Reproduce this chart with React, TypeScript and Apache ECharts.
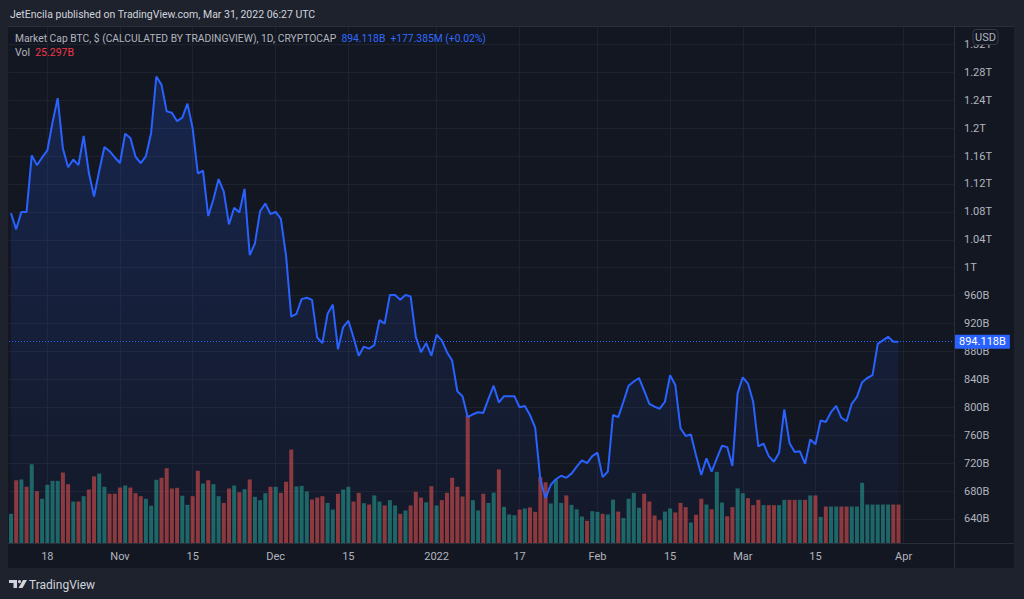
import React, { useEffect, useRef } from "react";
import * as echarts from "echarts";

// ---------- DATA ----------
const startDate = "2021-10-11";

// Market cap (billions USD), daily closes Oct 11 2021 – Mar 31 2022
const marketCapB = [
  1078, 1055, 1080, 1080, 1161, 1147, 1158, 1168, 1208, 1243,
  1171, 1144, 1155, 1147, 1189, 1136, 1102, 1139, 1173, 1167,
  1158, 1150, 1192, 1186, 1159, 1150, 1160, 1193, 1274, 1262,
  1224, 1222, 1210, 1215, 1235, 1200, 1135, 1139, 1074, 1098,
  1127, 1109, 1062, 1086, 1079, 1113, 1018, 1035, 1081, 1092,
  1077, 1080, 1070, 1017, 930, 934, 955, 957, 954, 900,
  892, 934, 947, 883, 915, 924, 900, 874, 887, 884,
  889, 925, 920, 961, 961, 954, 961, 959, 901, 879,
  892, 874, 904, 896, 879, 867, 823, 816, 786, 790,
  793, 792, 812, 831, 807, 816, 816, 816, 800, 802,
  789, 771, 696, 670, 689, 697, 702, 699, 705, 715,
  724, 720, 730, 735, 700, 708, 789, 786, 808, 831,
  837, 842, 824, 805, 801, 798, 808, 846, 832, 770,
  759, 761, 731, 703, 727, 708, 727, 745, 743, 716,
  820, 843, 834, 808, 744, 748, 730, 722, 735, 797,
  749, 736, 737, 719, 754, 747, 781, 779, 793, 802,
  785, 780, 805, 815, 836, 842, 846, 891, 896, 901,
  894, 894.118,
];

// Volume (billions USD)
const volumeB = [
  19.2, 41.3, 41.8, 37, 51.8, 34.1, 29.1, 38.3, 40.9, 40.9,
  46.4, 38.7, 27.3, 27.3, 30.8, 35.2, 43.8, 45.7, 37, 32.4,
  32.4, 36.5, 37.8, 36.5, 32.8, 30.8, 29.1, 24.5, 41.6, 42.9,
  49.2, 35.9, 36.3, 31.1, 25.1, 30.8, 47.5, 39.1, 41.3, 38.7,
  30.8, 26.4, 35.9, 37.8, 33.4, 35.4, 41.8, 30.4, 28.2, 32.8,
  37, 37, 33, 40.3, 61.5, 37.2, 37.6, 33.9, 28.6, 29.9,
  30.8, 26.4, 22, 32.4, 35.2, 37, 27.3, 33, 26.2, 25.3,
  31.3, 27.3, 24.7, 28.2, 24.7, 19.2, 21.4, 24.7, 33.7, 29.9,
  26.8, 37.4, 24.7, 28.2, 33, 42.9, 37, 30.6, 83.9, 28.2,
  21.4, 32.4, 26.4, 33.2, 48.4, 23.8, 18.8, 18.3, 22, 22.7,
  23.4, 20.5, 43.3, 40, 26, 41.8, 26.4, 31.3, 25.1, 22.2,
  17.4, 14.6, 20.9, 20.5, 19.2, 18.8, 28.6, 20.7, 16.4, 29.1,
  33, 23.2, 32.4, 27.3, 18.1, 15, 20.7, 22.7, 20.1, 26.4,
  23.6, 13.5, 18.6, 29.1, 25.3, 22.2, 46.8, 26.6, 17.6, 23.6,
  35.9, 32.8, 29.5, 24.9, 28.4, 24.9, 24.9, 24.9, 24.9, 28.4,
  28.4, 28.4, 28.4, 28.4, 31.3, 31.3, 17.2, 24, 24, 24,
  24, 24, 24, 24, 39.6, 25.3, 25.3, 25.3, 25.3, 25.3,
  25.3, 25.297,
];

// 1 = up (teal) bar, 0 = down (red) bar
const volumeUp = [
  1, 0, 1, 0, 1, 0, 1, 1, 1, 1,
  0, 0, 1, 0, 1, 0, 0, 1, 1, 0,
  0, 0, 1, 0, 0, 0, 1, 1, 1, 0,
  0, 0, 0, 1, 1, 0, 0, 1, 0, 1,
  1, 0, 0, 1, 0, 1, 0, 1, 1, 1,
  0, 1, 0, 0, 0, 1, 1, 1, 0, 0,
  0, 1, 1, 0, 1, 1, 0, 0, 1, 0,
  1, 1, 0, 1, 1, 0, 1, 0, 0, 0,
  1, 0, 1, 0, 0, 0, 0, 0, 0, 1,
  1, 0, 1, 1, 0, 1, 1, 1, 0, 1,
  0, 0, 0, 0, 1, 1, 1, 0, 1, 1,
  1, 0, 1, 1, 0, 1, 1, 0, 1, 1,
  1, 1, 0, 0, 0, 0, 1, 1, 0, 0,
  0, 1, 0, 0, 1, 0, 1, 1, 0, 0,
  1, 1, 0, 0, 0, 1, 0, 0, 1, 1,
  0, 0, 1, 0, 1, 0, 1, 0, 1, 1,
  0, 0, 1, 1, 1, 1, 1, 1, 1, 1,
  0, 0,
];

const tickDates = [
  "2021-10-18", "2021-11-01", "2021-11-15", "2021-12-01", "2021-12-15", "2022-01-01",
  "2022-01-17", "2022-02-01", "2022-02-15", "2022-03-01", "2022-03-15", "2022-04-01",
];
const tickLabels = ["18", "Nov", "15", "Dec", "15", "2022", "17", "Feb", "15", "Mar", "15", "Apr"];

const priceTicks = [640, 680, 720, 760, 800, 840, 880, 920, 960, 1000, 1040, 1080, 1120, 1160, 1200, 1240, 1280, 1320];
const priceTickLabels = [
  "640B", "680B", "720B", "760B", "800B", "840B", "880B", "920B", "960B",
  "1T", "1.04T", "1.08T", "1.12T", "1.16T", "1.2T", "1.24T", "1.28T", "1.32T",
];

const lastPriceLabel = "894.118B";
const lastVolumeLabel = "25.297B";
const changeLabel = "+177.385M (+0.02%)";

// ---------- HELPERS ----------
const DAY = 86400000;
const toTs = (s: string) => {
  const [y, m, d] = s.split("-").map(Number);
  return Date.UTC(y, m - 1, d);
};
const startTs = toTs(startDate);
// x axis is measured in days since startDate
const tickDays = tickDates.map((d) => Math.round((toTs(d) - startTs) / DAY));

const FONT = "Roboto, 'Liberation Sans', sans-serif";
const TEXT = "#b2b5be";
const BLUE = "#2962ff";
const UP = "rgba(38,166,154,0.55)";
const DOWN = "rgba(239,83,80,0.55)";

export default function App() {
  const ref = useRef<HTMLDivElement>(null);

  useEffect(() => {
    if (!ref.current) return;
    const chart = echarts.init(ref.current, undefined, { renderer: "svg" });

    const lineData = marketCapB.map((v, i) => [i, v]);
    const volData = volumeB.map((v, i) => ({
      value: [i, v],
      itemStyle: { color: volumeUp[i] ? UP : DOWN },
    }));

    const option: any = {
      animation: false,
      backgroundColor: "#131722",
      textStyle: { fontFamily: FONT },
      grid: { left: 9, top: 27, width: 946, height: 516, containLabel: false },
      xAxis: {
        type: "value",
        min: -0.385,
        max: 181.89,
        axisLine: { show: false },
        axisTick: { show: false, customValues: tickDays },
        axisLabel: {
          customValues: tickDays,
          formatter: (v: number) => {
            const k = tickDays.indexOf(Math.round(v));
            return k >= 0 ? tickLabels[k] : "";
          },
          color: TEXT,
          fontSize: 11,
          fontFamily: FONT,
          margin: 8,
        },
        splitLine: { show: true, lineStyle: { color: "#1e222d", width: 1 } },
      },
      yAxis: [
        {
          type: "value",
          position: "right",
          min: 605.6,
          max: 1344.9,
          axisLine: { show: false },
          axisTick: { show: false, customValues: priceTicks },
          axisLabel: {
            customValues: priceTicks,
            formatter: (v: number) => {
              const k = priceTicks.indexOf(Math.round(v));
              return k >= 0 ? priceTickLabels[k] : "";
            },
            color: TEXT,
            fontSize: 11,
            fontFamily: FONT,
            margin: 9,
          },
          splitLine: { show: true, lineStyle: { color: "#1e222d", width: 1 } },
        },
        {
          type: "value",
          show: false,
          min: 0,
          max: 339.5,
          splitLine: { show: false },
        },
      ],
      series: [
        {
          type: "line",
          name: "area",
          data: lineData,
          yAxisIndex: 0,
          symbol: "none",
          lineStyle: { width: 0, opacity: 0 },
          areaStyle: {
            origin: "start",
            color: new echarts.graphic.LinearGradient(0, 0, 0, 1, [
              { offset: 0, color: "rgba(41,98,255,0.28)" },
              { offset: 1, color: "rgba(41,98,255,0.04)" },
            ]),
          },
          z: 1,
          silent: true,
        },
        {
          type: "bar",
          name: "Vol",
          data: volData,
          yAxisIndex: 1,
          barWidth: 4,
          z: 2,
          silent: true,
          markLine: {
            silent: true,
            symbol: "none",
            lineStyle: { opacity: 0 },
            data: [{ yAxis: volumeB[volumeB.length - 1] }],
            label: {
              show: true,
              position: "end",
              distance: 0,
              formatter: lastVolumeLabel,
              color: "#ffffff",
              backgroundColor: "#ef5350",
              padding: [2, 4, 1, 4],
              fontSize: 11,
              fontFamily: FONT,
            },
          },
        },
        {
          type: "line",
          name: "Market Cap",
          data: lineData,
          yAxisIndex: 0,
          symbol: "none",
          lineStyle: { width: 2, color: BLUE },
          z: 3,
          silent: true,
          markLine: {
            silent: true,
            symbol: "none",
            lineStyle: { type: [1, 2], color: BLUE, width: 1 },
            data: [{ yAxis: marketCapB[marketCapB.length - 1] }],
            label: {
              show: true,
              position: "end",
              distance: 0,
              formatter: lastPriceLabel,
              color: "#ffffff",
              backgroundColor: BLUE,
              padding: [2, 4, 1, 4],
              fontSize: 11,
              fontFamily: FONT,
            },
          },
        },
      ],
      graphic: {
        elements: [
          { type: "rect", shape: { x: 0, y: 0, width: 1024, height: 26 }, style: { fill: "#1e222d" }, z: 100 },
          { type: "rect", shape: { x: 0, y: 568, width: 1024, height: 31 }, style: { fill: "#1e222d" }, z: 100 },
          { type: "rect", shape: { x: 0, y: 0, width: 8, height: 599 }, style: { fill: "#1e222d" }, z: 100 },
          { type: "rect", shape: { x: 1014, y: 0, width: 10, height: 599 }, style: { fill: "#1e222d" }, z: 100 },
          { type: "line", shape: { x1: 954.5, y1: 26, x2: 954.5, y2: 568 }, style: { stroke: "#2a2e39", lineWidth: 1 }, z: 100 },
          { type: "line", shape: { x1: 8, y1: 543.5, x2: 1014, y2: 543.5 }, style: { stroke: "#2a2e39", lineWidth: 1 }, z: 100 },
          { type: "line", shape: { x1: 8, y1: 26.5, x2: 1014, y2: 26.5 }, style: { stroke: "#2a2e39", lineWidth: 1 }, z: 100 },
          {
            type: "text",
            x: 10,
            y: 14,
            style: {
              text: "JetEncila published on TradingView.com, Mar 31, 2022 06:27 UTC",
              fill: "#d1d4dc",
              font: `10.5px ${FONT}`,
              verticalAlign: "middle",
            },
            z: 101,
          },
          {
            type: "text",
            x: 15,
            y: 38,
            style: {
              text: `{a|Market Cap BTC, $ (CALCULATED BY TRADINGVIEW), 1D, CRYPTOCAP}  {b|${lastPriceLabel}}  {b|${changeLabel}}`,
              verticalAlign: "middle",
              font: `10.3px ${FONT}`,
              rich: {
                a: { fill: TEXT, font: `10.3px ${FONT}` },
                b: { fill: "#2f6bff", font: `10.3px ${FONT}` },
              },
            },
            z: 101,
          },
          {
            type: "text",
            x: 15,
            y: 52,
            style: {
              text: `{a|Vol}  {r|${lastVolumeLabel}}`,
              verticalAlign: "middle",
              font: `10.5px ${FONT}`,
              rich: {
                a: { fill: TEXT, font: `10.5px ${FONT}` },
                r: { fill: "#f23645", font: `10.5px ${FONT}` },
              },
            },
            z: 101,
          },
          {
            type: "rect",
            shape: { x: 973, y: 29.5, width: 25, height: 15, r: 3 },
            style: { fill: "#131722", stroke: "#363a45", lineWidth: 1 },
            z: 101,
          },
          {
            type: "text",
            x: 985.5,
            y: 37,
            style: {
              text: "USD",
              fill: TEXT,
              font: `11px ${FONT}`,
              align: "center",
              verticalAlign: "middle",
            },
            z: 102,
          },
          {
            type: "polygon",
            shape: { points: [[9, 580], [17, 580], [17, 588], [13.5, 588], [13.5, 583], [9, 583]] },
            style: { fill: "#d1d4dc" },
            z: 101,
          },
          { type: "circle", shape: { cx: 19.5, cy: 581.6, r: 1.6 }, style: { fill: "#d1d4dc" }, z: 101 },
          {
            type: "polygon",
            shape: { points: [[23, 580], [27, 580], [22.5, 588], [18.5, 588]] },
            style: { fill: "#d1d4dc" },
            z: 101,
          },
          {
            type: "text",
            x: 29,
            y: 584.5,
            style: {
              text: "TradingView",
              fill: "#d1d4dc",
              font: `12px ${FONT}`,
              verticalAlign: "middle",
            },
            z: 101,
          },
        ],
      },
    };

    chart.setOption(option);
    return () => chart.dispose();
  }, []);

  return (
    <div style={{ position: "absolute", left: 0, top: 0, width: 1024, height: 599, background: "#1e222d" }}>
      <div ref={ref} style={{ width: 1024, height: 599 }} />
    </div>
  );
}
